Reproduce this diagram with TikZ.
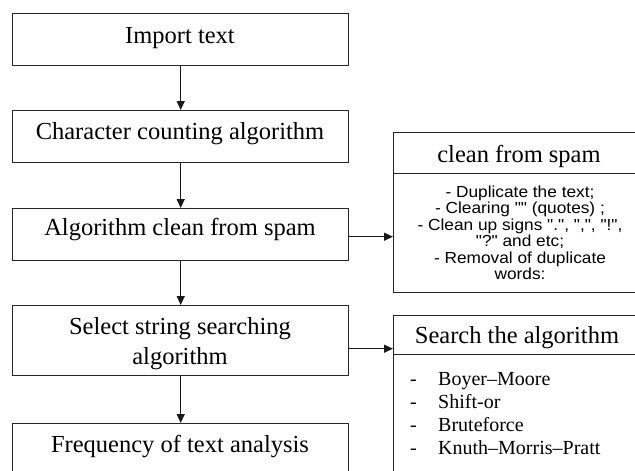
\documentclass[tikz,border=0pt]{standalone}
\usepackage{fontspec}
\setmainfont{Liberation Serif}
\newfontfamily\listsans[FakeStretch=1.08]{Liberation Sans}
\usetikzlibrary{arrows.meta}
\begin{document}
\begin{tikzpicture}[x=1pt,y=-1pt,
  box/.style={draw=black!85, line width=1.4pt, rectangle, anchor=north west, inner sep=0pt, minimum width=336pt},
  rbox/.style={draw=black!85, line width=1.4pt, rectangle, anchor=north west, inner sep=0pt, minimum width=254pt},
  arr/.style={draw=black!90, line width=1.2pt, -{Triangle[width=8pt,length=9pt]}},
  mt/.style={font=\fontsize{24.5}{30}\selectfont, anchor=base, inner sep=0pt},
  st/.style={font=\listsans\fontsize{16}{16.5}\selectfont, anchor=base, inner sep=0pt},
  lt/.style={font=\fontsize{20}{23}\selectfont, anchor=base west, inner sep=0pt}]
\useasboundingbox (0,0) rectangle (635,471);
\clip (0,0) rectangle (635,471);
% left column
\node[box, minimum height=52pt] (b1) at (12,13) {};
\node[box, minimum height=52pt] (b2) at (12,110) {};
\node[box, minimum height=52pt] (b3) at (12,208) {};
\node[box, minimum height=70pt] (b4) at (12,305) {};
\node[box, minimum height=80pt] (b5) at (12,423) {};
\node[mt] (t1) at (180,43) {Import text};
\node[mt] (t2) at (180,139) {Character counting algorithm};
\node[mt] (t3) at (180,235) {Algorithm clean from spam};
\node[mt] (t4a) at (180,334) {Select string searching};
\node[mt] (t4b) at (180,364) {algorithm};
\node[mt] (t5) at (180,452) {Frequency of text analysis};
% right: spam
\node[rbox, minimum height=41pt] (spamh) at (393,132) {};
\node[rbox, minimum height=119pt] (spamb) at (393,173) {};
\node[mt] (spamt) at (519,162) {clean from spam};
\node[st] (s1) at (520,197) {- Duplicate the text;};
\node[st] (s2) at (520,213.5) {- Clearing "" (quotes) ;};
\node[st] (s3) at (520,230) {- Clean up signs ".", ",", "!",};
\node[st] (s4) at (520,246.5) {"?" and etc;};
\node[st] (s5) at (520,263) {- Removal of duplicate};
\node[st] (s6) at (520,279.5) {words:};
% right: search
\node[rbox, minimum height=39pt] (srchh) at (393,315) {};
\node[rbox, minimum height=140pt] (srchb) at (393,354) {};
\node[mt] (srcht) at (517,343) {Search the algorithm};
\node[lt] (d1) at (410,385) {-};
\node[lt] (d2) at (410,408) {-};
\node[lt] (d3) at (410,431) {-};
\node[lt] (d4) at (410,454) {-};
\node[lt] (a1) at (438,385) {Boyer–Moore};
\node[lt] (a2) at (438,408) {Shift-or};
\node[lt] (a3) at (438,431) {Bruteforce};
\node[lt] (a4) at (438,454) {Knuth–Morris–Pratt};
% connectors
\draw[arr] (b1.south) -- (b2.north);
\draw[arr] (b2.south) -- (b3.north);
\draw[arr] (b3.south) -- (b4.north);
\draw[arr] (b4.south) -- (b5.north);
\draw[arr] ([yshift=-2pt]b3.east) -- ([yshift=-2pt]b3.east -| spamb.west);
\draw[arr] ([yshift=-8pt]b4.east) -- ([yshift=-8pt]b4.east -| srchh.west);
\end{tikzpicture}
\end{document}
